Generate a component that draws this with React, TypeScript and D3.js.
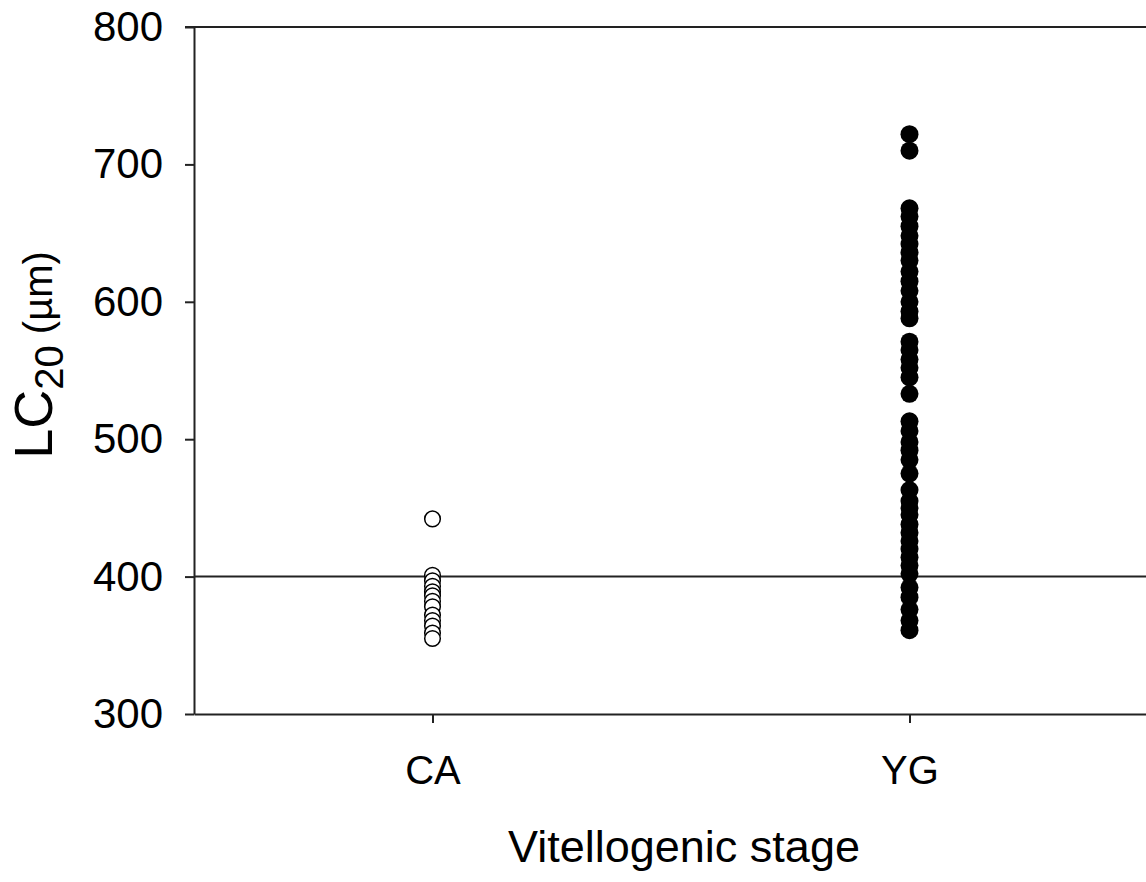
import React, { useRef, useEffect } from "react";
import * as d3 from "d3";

// Estadios y valores LC20 (µm)
const stages = ["CA", "YG"];
const caValues = [442, 401, 397, 393, 389, 386, 382, 378, 372, 368, 364, 359, 355];
const ygValues = [
  722, 710, 668, 662, 655, 648, 642, 636, 630, 622, 615, 608, 600, 593, 588,
  571, 565, 558, 552, 545, 533, 513, 506, 498, 492, 485, 475, 463, 455, 450,
  445, 438, 432, 426, 420, 414, 408, 402, 392, 385, 376, 368, 361,
];
const yTicks = [300, 400, 500, 600, 700, 800];
const refLine = 400;

const App = () => {
  const ref = useRef<SVGSVGElement>(null);
  const width = 1146;
  const height = 882;

  useEffect(() => {
    const container = ref.current;
    if (!container) return;
    d3.select(container).selectChildren().remove();

    const left = 194,
      right = 1148,
      top = 27,
      bottom = 714;
    const font = "'Liberation Sans', Arial, sans-serif";

    const svg = d3.select(container).append("g").style("font-family", font);

    const x = d3.scalePoint<string>().domain(stages).range([left, right]).padding(0.5);
    const y = d3.scaleLinear().domain([300, 800]).range([bottom, top]);

    // Y axis
    const yAxis = svg
      .append("g")
      .attr("transform", `translate(${left},0)`)
      .call(d3.axisLeft(y).tickValues(yTicks).tickSize(9).tickPadding(22).tickSizeOuter(0));
    yAxis.select(".domain").attr("stroke", "#222").attr("stroke-width", 2);
    yAxis.selectAll(".tick line").attr("stroke", "#222").attr("stroke-width", 2);
    yAxis
      .selectAll(".tick text")
      .attr("font-size", 42)
      .attr("fill", "#000")
      .attr("font-family", font);

    // X axis
    const xAxis = svg
      .append("g")
      .attr("transform", `translate(0,${bottom})`)
      .call(d3.axisBottom(x).tickSize(9).tickPadding(33).tickSizeOuter(0));
    xAxis.select(".domain").attr("stroke", "#222").attr("stroke-width", 2);
    xAxis.selectAll(".tick line").attr("stroke", "#222").attr("stroke-width", 2);
    xAxis
      .selectAll(".tick text")
      .attr("font-size", 40)
      .attr("fill", "#000")
      .attr("font-family", font);

    // Borde superior
    svg
      .append("line")
      .attr("x1", left - 9)
      .attr("x2", right)
      .attr("y1", y(800))
      .attr("y2", y(800))
      .attr("stroke", "#222")
      .attr("stroke-width", 2);

    // Línea de referencia en 400
    svg
      .append("line")
      .attr("x1", left)
      .attr("x2", right)
      .attr("y1", y(refLine))
      .attr("y2", y(refLine))
      .attr("stroke", "#222")
      .attr("stroke-width", 2);

    // Puntos
    svg
      .append("g")
      .selectAll("circle")
      .data(ygValues)
      .enter()
      .append("circle")
      .attr("cx", x("YG")!)
      .attr("cy", (d) => y(d))
      .attr("r", 9)
      .attr("fill", "#000");

    svg
      .append("g")
      .selectAll("circle")
      .data(caValues)
      .enter()
      .append("circle")
      .attr("cx", x("CA")!)
      .attr("cy", (d) => y(d))
      .attr("r", 7.8)
      .attr("fill", "#fff")
      .attr("stroke", "#000")
      .attr("stroke-width", 1.5);

    // Rótulo eje X
    svg
      .append("text")
      .attr("x", 684)
      .attr("y", 862)
      .attr("text-anchor", "middle")
      .attr("font-size", 45)
      .attr("fill", "#000")
      .text("Vitellogenic stage");

    // Rótulo eje Y (girado)
    const yl = svg
      .append("text")
      .attr("transform", `translate(52, 355) rotate(-90)`)
      .attr("text-anchor", "middle")
      .attr("font-size", 54)
      .attr("fill", "#000");
    yl.append("tspan").text("LC");
    yl.append("tspan").attr("font-size", 40).attr("dy", 11).text("20");
    yl.append("tspan").attr("font-size", 40).attr("dy", -11).text(" (\u00b5m)");
  }, []);

  return (
    <svg
      ref={ref}
      width={width}
      height={height}
      style={{ position: "absolute", left: 0, top: 0, background: "#fff" }}
    />
  );
};

export default App;
